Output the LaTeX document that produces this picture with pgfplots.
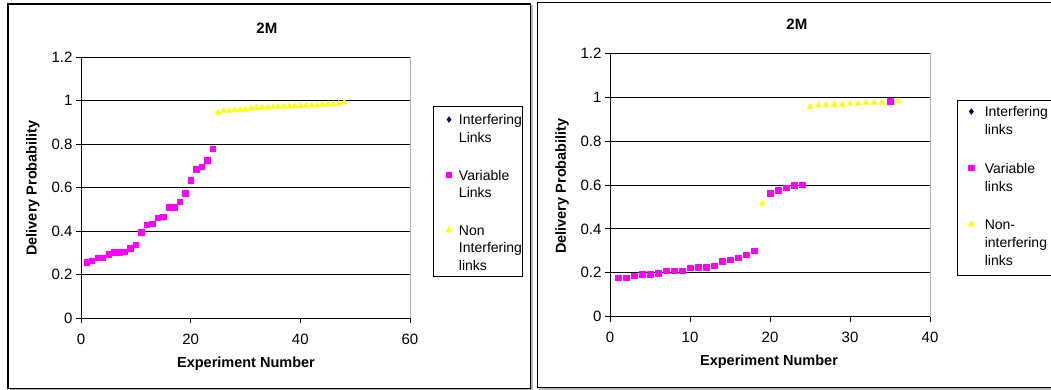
\documentclass[border=0pt]{standalone}
\usepackage{fontspec}
\setmainfont{Liberation Sans}
\usepackage{pgfplots}
\pgfplotsset{compat=1.18}
\definecolor{navyblue}{RGB}{0,0,128}
\definecolor{pinkm}{RGB}{255,0,255}
\definecolor{yell}{RGB}{255,255,0}
\pgfplotsset{
  excel/.style={
    scale only axis,
    axis lines=left,
    axis line style={-, black, line width=0.9pt},
    axis background/.style={draw=gray!60, line width=0.9pt},
    tick align=outside,
    major tick length=5pt,
    tick style={black, line width=0.9pt},
    ymajorgrids,
    major grid style={black, line width=0.8pt},
    ymin=0, ymax=1.2,
    ytick={0,0.2,0.4,0.6,0.8,1,1.2},
    /pgf/number format/assume math mode=true,
    tick label style={font=\fontsize{15}{18}\selectfont},
    xticklabel style={yshift=-7pt},
    label style={font=\fontsize{14.5}{17}\selectfont\bfseries},
    xlabel={Experiment Number},
    ylabel={Delivery Probability},
    clip=false,
    legend cell align=left,
  },
  vari/.style={only marks, mark=square*, mark size=2.7pt, color=pinkm, mark options={draw=pinkm, fill=pinkm}},
  noni/.style={only marks, mark=triangle*, mark size=3.4pt, color=yell, mark options={draw=yell, fill=yell}},
  intf/.style={only marks, mark=diamond*, mark size=2.6pt, color=navyblue, mark options={draw=navyblue, fill=navyblue}},
}
\begin{document}
\begin{tikzpicture}[x=1pt,y=1pt]
\useasboundingbox (0,0) rectangle (1051,390);
% chart area frames
\draw[gray!55, line width=1.6pt] (9.5,-0.2) -- (532.2,-0.2) -- (532.2,384.5);
\draw[black, line width=1.2pt] (8,1.3) rectangle (530.7,386);
\draw[gray!55, line width=1.6pt] (539.2,1.2) -- (1060,1.2);
\draw[black, line width=1.2pt] (1060,387.3) -- (537.7,387.3) -- (537.7,2.7) -- (1060,2.7);

\begin{axis}[excel,
  at={(81pt,72pt)}, anchor=origin,
  width=329pt, height=261pt,
  xmin=0, xmax=60, xtick={0,20,40,60},
  title={2M},
  title style={at={(axis description cs:0.565,1.111)}, anchor=center, yshift=-6.5pt,
    font=\fontsize{15}{18}\selectfont\bfseries},
  xlabel style={at={(axis description cs:0.5015,-0.176)}, anchor=center},
  ylabel style={at={(axis description cs:-0.146,0.498)}, anchor=center},
  legend image code/.code={\path[draw=none,fill=none] (0pt,10.5pt) (0pt,-35pt); \draw[#1] plot coordinates {(0pt,5pt)};},
  legend style={at={(axis description cs:1.069,0.8123)}, anchor=north west,
    draw=black, line width=0.8pt, inner xsep=13pt, inner ysep=6pt,
    row sep=8.5pt, column sep=5pt,
    cells={anchor=base west, inner sep=0pt, text width=48.3pt, align=left,
      font=\fontsize{14}{17.5}\selectfont}},
]
\addlegendimage{intf}
\addlegendentry{\mbox{Interfering}\\\mbox{Links}}
\addplot[vari] coordinates {
(1,0.256) (2,0.264) (3,0.276) (4,0.276) (5,0.294) (6,0.302) (7,0.302) (8,0.305)
(9,0.320) (10,0.336) (11,0.395) (12,0.429) (13,0.434) (14,0.460) (15,0.465) (16,0.510)
(17,0.510) (18,0.536) (19,0.573) (20,0.633) (21,0.684) (22,0.696) (23,0.726) (24,0.777)
};
\addlegendentry{\mbox{Variable}\\\mbox{Links}}
\addplot[noni] coordinates {
(25,0.943) (26,0.953) (27,0.953) (28,0.956) (29,0.958) (30,0.958) (31,0.962) (32,0.965)
(33,0.967) (34,0.968) (35,0.970) (36,0.971) (37,0.972) (38,0.973) (39,0.974) (40,0.975)
(41,0.976) (42,0.977) (43,0.978) (44,0.980) (45,0.982) (46,0.984) (47,0.985) (48,0.992)
};
\addlegendentry{\mbox{Non}\\\mbox{Interfering}\\\mbox{links}}
\end{axis}

\begin{axis}[excel,
  at={(610pt,73.3pt)}, anchor=origin,
  width=320pt, height=263.4pt,
  xmin=0, xmax=40, xtick={0,10,20,30,40},
  title={2M},
  title style={at={(axis description cs:0.584,1.111)}, anchor=center, yshift=-6.5pt,
    font=\fontsize{15}{18}\selectfont\bfseries},
  xlabel style={at={(axis description cs:0.497,-0.172)}, anchor=center},
  ylabel style={at={(axis description cs:-0.15,0.496)}, anchor=center},
  legend image code/.code={\path[draw=none,fill=none] (0pt,10.5pt) (0pt,-42pt); \draw[#1] plot coordinates {(0pt,5pt)};},
  legend style={at={(axis description cs:1.0853,0.8227)}, anchor=north west,
    draw=black, line width=0.8pt, inner xsep=10.7pt, inner ysep=4pt,
    row sep=2.5pt, column sep=8.5pt,
    cells={anchor=base west, inner sep=0pt, text width=62pt, align=left,
      font=\fontsize{14}{18}\selectfont}},
]
\addlegendimage{intf}
\addlegendentry{\mbox{Interfering}\\\mbox{links}}
\addplot[vari] coordinates {
(1,0.179) (2,0.179) (3,0.188) (4,0.194) (5,0.194) (6,0.198) (7,0.210) (8,0.210)
(9,0.210) (10,0.222) (11,0.226) (12,0.226) (13,0.232) (14,0.252) (15,0.260) (16,0.269)
(17,0.283) (18,0.302) (20,0.563) (21,0.577) (22,0.589) (23,0.599) (24,0.601) (35,0.981)
};
\addlegendentry{\mbox{Variable}\\\mbox{links}}
\addplot[noni] coordinates {
(19,0.515) (25,0.957) (26,0.961) (27,0.966) (28,0.966) (29,0.966) (30,0.970) (31,0.970)
(32,0.975) (33,0.975) (34,0.975) (36,0.983)
};
\addlegendentry{\mbox{Non-}\\\mbox{interfering}\\\mbox{links}}
\end{axis}
\end{tikzpicture}
\end{document}
